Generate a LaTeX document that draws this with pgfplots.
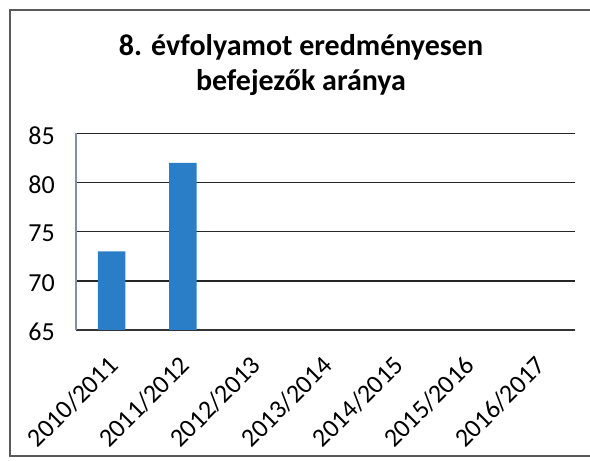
\documentclass[border=0pt]{standalone}
\usepackage{pgfplots}
\pgfplotsset{compat=1.18}
\usepackage{fontspec}
\setmainfont{Carlito}
\definecolor{barblue}{RGB}{42,126,200}
\definecolor{axgray}{RGB}{130,145,170}
\begin{document}
\begin{tikzpicture}[x=1pt,y=1pt]
\path[use as bounding box] (0,0) rectangle (590,461);
\draw[line width=1.6pt, black!65] (590,5) -- (10,5) -- (10,451) -- (590,451);
\node[align=center, font=\fontsize{30}{35}\selectfont\bfseries] at (301,395.5) {8. évfolyamot eredményesen\\befejezők aránya};
\begin{axis}[
  at={(76pt,131pt)}, anchor=south west,
  scale only axis, width=499pt, height=196.7pt,
  xmin=-0.5, xmax=6.5, ymin=65, ymax=85,
  ytick={65,70,...,85},
  /pgf/number format/assume math mode=true,
  tick label style={inner sep=0pt},
  yticklabel style={font=\fontsize{26}{28}\selectfont, anchor=east, xshift=-21pt, yshift=-2pt},
  ymajorgrids, grid style={black!85, line width=1.4pt},
  axis x line*=bottom, axis y line*=left,
  x axis line style={black!80, line width=1.4pt, -},
  y axis line style={axgray, line width=1.4pt, -},
  ytick style={draw=none},
  xtick={0,...,6},
  xticklabels={2010/2011,2011/2012,2012/2013,2013/2014,2014/2015,2015/2016,2016/2017},
  xtick style={draw=none},
  xticklabel style={font=\fontsize{26}{28}\selectfont, anchor=east, xshift=2pt, yshift=-31pt, rotate=45},
  extra x ticks={-0.5,0.5,1.5,2.5,3.5,4.5,5.5,6.5},
  extra x tick labels={},
  extra x tick style={grid=none, tick style={draw=axgray, line width=1.2pt}, major tick length=6pt, tick align=outside},
  extra y ticks={65,70,...,85}, extra y tick labels={},
  extra y tick style={grid=none, tick style={draw=black!80, line width=1.3pt}, major tick length=8pt, tick align=outside},
  clip=false,
]
\addplot[ybar, bar width=27.5pt, fill=barblue, draw=none] coordinates {(0,73) (1,82)};
\end{axis}
\end{tikzpicture}
\end{document}
